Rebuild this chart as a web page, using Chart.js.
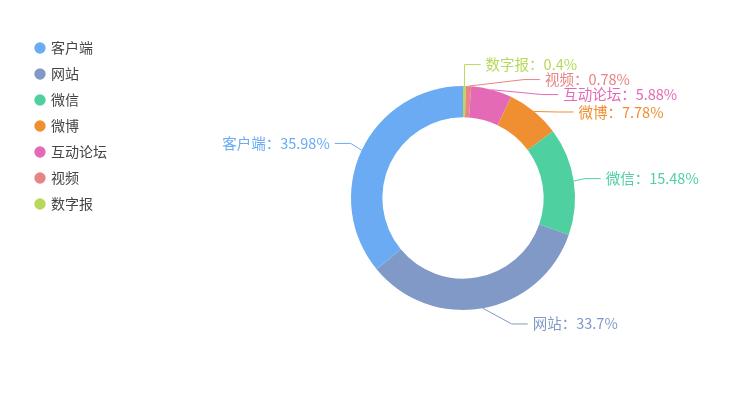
<!DOCTYPE html>
<html>
<head>
<meta charset="utf-8">
<script src="https://cdn.jsdelivr.net/npm/chart.js@4.4.0/dist/chart.umd.min.js"></script>
<style>
  html, body { margin: 0; padding: 0; background: #fff; }
  #wrap { width: 729px; height: 402px; position: relative; }
</style>
</head>
<body>
<div id="wrap"><canvas id="pie"></canvas></div>
<script>
// data, in legend order
const categories = ["客户端", "网站", "微信", "微博", "互动论坛", "视频", "数字报"];
const shares = [35.98, 33.7, 15.48, 7.78, 5.88, 0.78, 0.4];
const colors = ["#6aabf4", "#8199c7", "#4fd0a1", "#ef8f31", "#e56ab5", "#e78484", "#b8d85a"];

const FONT = '"Noto Sans CJK SC", "Microsoft YaHei", sans-serif';
const LEN1 = 16, LEN2 = 16, GAP = 5, LABEL_H = 15;
const LEGEND_W = 173;

Chart.defaults.font.family = FONT;

// the slices run counter-clockwise in the original, so feed them reversed
const rev = arr => arr.slice().reverse();

// keep legend box wide so the ring sits where it does in the original
const legendWidth = {
  id: "legendWidth",
  beforeLayout(chart) {
    const legend = chart.legend;
    if (!legend || legend._fixed) return;
    const fit = legend.fit;
    legend.fit = function () { fit.call(this); this.width = LEGEND_W; };
    legend._fixed = true;
  }
};

// outer labels with leader lines, laid out roughly like echarts does
function adjustSide(list, dir) {
  list.sort((a, b) => a.ty - b.ty);
  const n = list.length;
  const shiftUp = (end, delta) => {
    for (let j = end; j >= 0; j--) {
      list[j].ty -= delta;
      if (j > 0 && list[j].ty > list[j - 1].ty + LABEL_H) break;
    }
  };
  const shiftDown = (start, delta) => {
    for (let j = start; j < n; j++) {
      list[j].ty += delta;
      if (j > start && j + 1 < n && list[j + 1].ty > list[j].ty + LABEL_H) {
        shiftUp(j, delta / 2);
        return;
      }
    }
    shiftUp(n - 1, delta / 2);
  };
  let last = -Infinity;
  for (let i = 0; i < n; i++) {
    const delta = list[i].ty - last - LABEL_H;
    if (delta < 0) shiftDown(i, -delta);
    last = list[i].ty;
  }
  let lastDx = 0;
  list.filter(d => d.ty < d.cy).forEach(d => {
    const dy = Math.abs(d.ty - d.cy);
    const R = d.r + LEN1 + LEN2;
    let dx = dy < d.r + LEN1 ? Math.sqrt(R * R - dy * dy) : Math.abs(d.tx - d.cx);
    if (dx <= lastDx) dx = lastDx + 10;
    d.tx = d.cx + dx * dir;
    lastDx = dx;
  });
  lastDx = Infinity;
  list.filter(d => d.ty >= d.cy).forEach(d => {
    const dy = Math.abs(d.ty - d.cy);
    const R = d.r + LEN1 + LEN2;
    let dx = dy < d.r + LEN1 ? Math.sqrt(R * R - dy * dy) : Math.abs(d.tx - d.cx);
    if (dx >= lastDx) dx = lastDx - 10;
    d.tx = d.cx + dx * dir;
    lastDx = dx;
  });
}

const outerLabels = {
  id: "outerLabels",
  afterDatasetsDraw(chart) {
    const ctx = chart.ctx;
    const ds = chart.data.datasets[0];
    const items = chart.getDatasetMeta(0).data.map((arc, i) => {
      const p = arc.getProps(["x", "y", "startAngle", "endAngle", "outerRadius"], true);
      const mid = (p.startAngle + p.endAngle) / 2;
      const c = Math.cos(mid), s = Math.sin(mid);
      const dir = c < 0 ? -1 : 1;
      return {
        i, dir, cx: p.x, cy: p.y, r: p.outerRadius,
        x1: p.x + c * p.outerRadius, y1: p.y + s * p.outerRadius,
        tx: p.x + c * (p.outerRadius + LEN1) + dir * (LEN2 + GAP),
        ty: p.y + s * (p.outerRadius + LEN1)
      };
    });
    adjustSide(items.filter(d => d.dir < 0), -1);
    adjustSide(items.filter(d => d.dir > 0), 1);

    ctx.save();
    ctx.font = "14.5px " + FONT;
    ctx.textBaseline = "middle";
    ctx.lineWidth = 1;
    items.forEach(d => {
      const color = ds.backgroundColor[d.i];
      const end = d.tx - d.dir * GAP;
      const elbow = end - d.dir * LEN2;
      ctx.strokeStyle = color;
      ctx.beginPath();
      ctx.moveTo(d.x1, d.y1);
      ctx.lineTo(elbow, d.ty);
      ctx.lineTo(end, d.ty);
      ctx.stroke();
      ctx.fillStyle = color;
      ctx.textAlign = d.dir > 0 ? "left" : "right";
      ctx.fillText(chart.data.labels[d.i] + "：" + ds.data[d.i] + "%", d.tx, d.ty);
    });
    ctx.restore();
  }
};

new Chart(document.getElementById("pie"), {
  type: "doughnut",
  data: {
    labels: rev(categories),
    datasets: [{
      data: rev(shares),
      backgroundColor: rev(colors),
      borderWidth: 0,
      radius: 112,
      cutout: "72%"
    }]
  },
  options: {
    responsive: true,
    maintainAspectRatio: false,
    animation: false,
    layout: { padding: { left: 24, top: 29, right: 0, bottom: 35 } },
    plugins: {
      tooltip: { enabled: false },
      legend: {
        position: "left",
        align: "start",
        reverse: true,
        labels: {
          usePointStyle: true,
          pointStyle: "circle",
          boxWidth: 8,
          boxHeight: 8,
          padding: 12,
          color: "#444",
          font: { size: 14 }
        }
      }
    }
  },
  plugins: [legendWidth, outerLabels]
});
</script>
</body>
</html>
